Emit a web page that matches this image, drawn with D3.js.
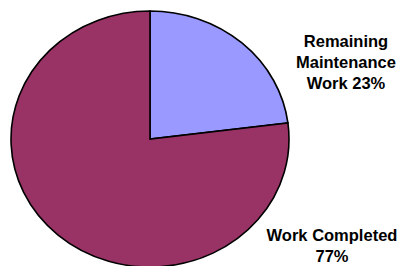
<!DOCTYPE html>
<html>
<head>
<meta charset="utf-8">
<script src="https://cdn.jsdelivr.net/npm/d3@7"></script>
<style>
  body { margin: 0; background: #fff; }
  text { font-family: "Liberation Sans", Arial, sans-serif; font-weight: bold; fill: #000; }
</style>
</head>
<body>
<div id="chart"></div>
<script>
// slices, clockwise from 12 o'clock
const categories = ["Remaining Maintenance Work", "Work Completed"];
const values = [23, 77];
const colors = ["#9999ff", "#993366"];
const labelLines = [["Remaining", "Maintenance", "Work 23%"], ["Work Completed", "77%"]];

const w = 408, h = 266;
const cx = 150, cy = 139;
const rx = 139, ry = 128; // the pie is a bit squashed in the picture

const svg = d3.select("#chart").append("svg")
    .attr("width", w)
    .attr("height", h);

const pie = d3.pie().sort(null).value(d => d);
const arc = d3.arc().innerRadius(0).outerRadius(rx);

const pieGroup = svg.append("g")
    .attr("transform", `translate(${cx},${cy}) scale(1,${ry / rx})`);

pieGroup.selectAll("path")
    .data(pie(values))
    .enter().append("path")
    .attr("d", arc)
    .attr("fill", (d, i) => colors[i])
    .attr("stroke", "#000")
    .attr("stroke-width", 1.6)
    .attr("vector-effect", "non-scaling-stroke")
    .attr("stroke-linejoin", "miter");

// labels placed to the right of the pie
const labelPos = [{ x: 346, y: 47 }, { x: 332, y: 241 }];
const lineGap = 21;

labelLines.forEach((lines, i) => {
    const t = svg.append("text")
        .attr("text-anchor", "middle")
        .style("font-size", "16.5px");
    lines.forEach((line, j) => {
        t.append("tspan")
            .attr("x", labelPos[i].x)
            .attr("y", labelPos[i].y + j * lineGap)
            .text(line);
    });
});
</script>
</body>
</html>
